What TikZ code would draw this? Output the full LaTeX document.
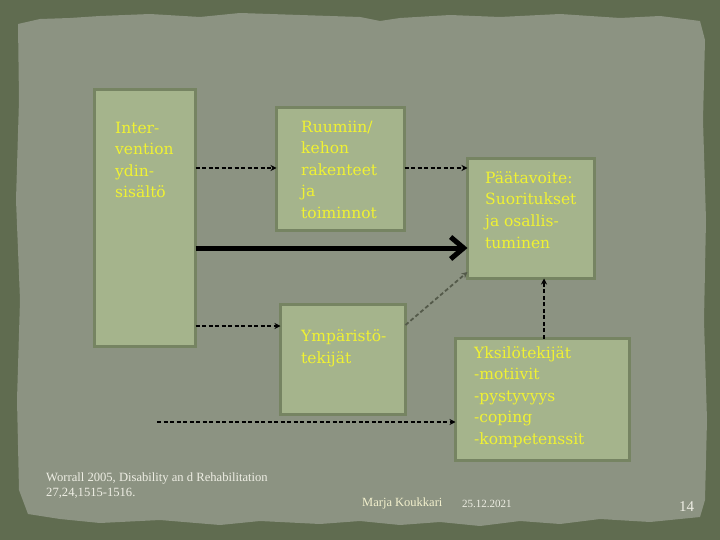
\documentclass[tikz,border=0pt]{standalone}
\usepackage{fontspec}
\setmainfont{Liberation Serif}
\newfontfamily\boxfont{DejaVu Serif}
\usetikzlibrary{arrows.meta}
\definecolor{outerbg}{RGB}{96,108,80}
\definecolor{paper}{RGB}{140,147,130}
\definecolor{boxfill}{RGB}{165,180,140}
\definecolor{boxline}{RGB}{118,132,98}
\definecolor{textyellow}{RGB}{240,242,50}
\definecolor{foottext}{RGB}{238,238,228}
\definecolor{grayline}{RGB}{84,90,74}
\begin{document}
\begin{tikzpicture}[x=1pt,y=-1pt,
  box/.style={draw=boxline, fill=boxfill, line width=3pt, rectangle, inner sep=0pt, outer sep=0pt, anchor=north west},
  boxtext/.style={anchor=base west, inner sep=0pt, align=left, text=textyellow, font=\boxfont\fontsize{15.5}{21.6}\selectfont},
  foot/.style={anchor=base west, inner sep=0pt, align=left, text=foottext, font=\fontsize{12.6}{15}\selectfont},
  dasharrow/.style={draw=black, line width=1.8pt, dash pattern=on 4pt off 2.5pt, -{Stealth[length=6pt,width=6pt]}},
  grayarrow/.style={draw=grayline, line width=1.8pt, dash pattern=on 4pt off 2.5pt, -{Stealth[length=6pt,width=6pt]}},
  thickarrow/.style={draw=black, line width=5pt, -{Straight Barb[length=13pt,width=22pt]}}
]
\useasboundingbox (0,0) rectangle (720,540);
\fill[outerbg] (0,0) rectangle (720,540);
\fill[paper] (18,24) -- (40,19) -- (70,18) -- (100,16) -- (150,14) -- (200,17) -- (240,13) -- (300,15) -- (360,17) -- (380,21) -- (400,18) -- (450,15) -- (500,17) -- (560,14) -- (620,18) -- (660,16) -- (700,21) -- (705,40) -- (703,120) -- (706,220) -- (704,320) -- (707,420) -- (705,500) -- (700,517) -- (650,522) -- (600,519) -- (560,524) -- (520,521) -- (480,526) -- (440,522) -- (400,525) -- (360,521) -- (320,524) -- (260,521) -- (220,525) -- (160,520) -- (100,523) -- (60,519) -- (28,514) -- (19,490) -- (17,400) -- (20,300) -- (16,200) -- (19,100) -- cycle;

% boxes
\node[box, minimum width=101pt, minimum height=257pt] (b1) at (94.5,89.5) {};
\node[box, minimum width=128pt, minimum height=123pt] (b2) at (276.5,107.5) {};
\node[box, minimum width=127pt, minimum height=120pt] (b3) at (467.5,158.5) {};
\node[box, minimum width=125pt, minimum height=110pt] (b4) at (280.5,304.5) {};
\node[box, minimum width=174pt, minimum height=122pt] (b5) at (455.5,338.5) {};

% box texts (anchored at the baseline of the last line)
\node[boxtext] (t1) at (115,198) {Inter-\\vention\\ydin-\\sisältö};
\node[boxtext] (t2) at (301,218.4) {Ruumiin/\\kehon\\rakenteet\\ja\\toiminnot};
\node[boxtext] (t3) at (485,248) {Päätavoite:\\Suoritukset\\ja osallis-\\tuminen};
\node[boxtext] (t4) at (301,363.5) {Ympäristö-\\tekijät};
\node[boxtext] (t5) at (474,444.4) {Yksilötekijät\\-motiivit\\-pystyvyys\\-coping\\-kompetenssit};

% connectors
\coordinate (r1) at (0,168);
\coordinate (r2) at (0,248);
\coordinate (r3) at (0,326);
\coordinate (r4) at (0,325);
\coordinate (r5) at (0,272);
\coordinate (cx) at (544,0);
\coordinate (s) at (157,422);
\draw[dasharrow] (b1.east |- r1) -- (b2.west |- r1);
\draw[dasharrow] (b2.east |- r1) -- (b3.west |- r1);
\draw[thickarrow] (b1.east |- r2) -- (b3.west |- r2);
\draw[dasharrow] (b1.east |- r3) -- (b4.west |- r3);
\draw[grayarrow] (b4.east |- r4) -- (b3.west |- r5);
\draw[dasharrow] (b5.north -| cx) -- (b3.south -| cx);
\draw[dasharrow] (s) -- (b5.west |- s);

% footer
\node[foot] (f1) at (46,496) {Worrall 2005, Disability an d Rehabilitation\\27,24,1515-1516.};
\node[foot, text={rgb,255:red,242;green,240;blue,205}, font=\fontsize{12.5}{15}\selectfont] (f2) at (362,506) {Marja Koukkari};
\node[foot, font=\fontsize{11}{15}\selectfont] (f3) at (462,507) {25.12.2021};
\node[foot, font=\fontsize{15}{18}\selectfont] (f4) at (679,511) {14};
\end{tikzpicture}
\end{document}
